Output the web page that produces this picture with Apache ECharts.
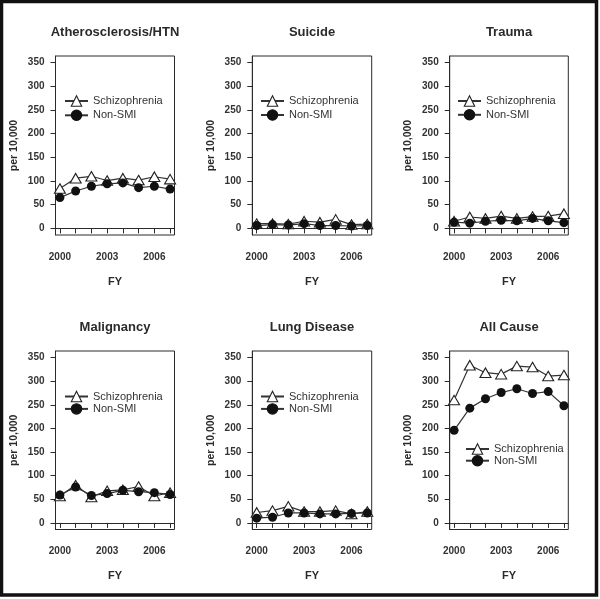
<!DOCTYPE html>
<html>
<head>
<meta charset="utf-8">
<script src="https://cdn.jsdelivr.net/npm/echarts@6/dist/echarts.min.js"></script>
<style>html,body{margin:0;padding:0;background:#fff}#c{width:600px;height:599px}</style>
</head>
<body>
<div id="c"></div>
<script>
const years = [2000, 2001, 2002, 2003, 2004, 2005, 2006, 2007];
const xTickLabels = [2000, 2003, 2006];
const yTicks = [0, 50, 100, 150, 200, 250, 300, 350];
const titles = ['Atherosclerosis/HTN', 'Suicide', 'Trauma', 'Malignancy', 'Lung Disease', 'All Cause'];
const seriesNames = ['Schizophrenia', 'Non-SMI'];

const schizoAthero = [84, 106, 110, 101, 106, 102, 109, 104];
const nonSmiAthero = [65, 79, 89, 94, 96, 86, 89, 83];
const schizoSuicide = [10, 10, 9, 15, 13, 19, 8, 9];
const nonSmiSuicide = [6, 8, 7, 10, 6, 6, 5, 6];
const schizoTrauma = [15, 24, 21, 26, 21, 25, 26, 31];
const nonSmiTrauma = [13, 11, 15, 17, 16, 21, 16, 12];
const schizoMalig = [57, 80, 55, 68, 70, 77, 57, 64];
const nonSmiMalig = [59, 76, 58, 62, 69, 66, 64, 60];
const schizoLung = [22, 26, 35, 24, 24, 26, 19, 24];
const nonSmiLung = [10, 12, 21, 21, 19, 19, 20, 21];
const schizoAll = [260, 334, 318, 315, 332, 330, 311, 313];
const nonSmiAll = [196, 243, 263, 276, 284, 274, 278, 248];

const schizoData = [schizoAthero, schizoSuicide, schizoTrauma, schizoMalig, schizoLung, schizoAll];
const nonSmiData = [nonSmiAthero, nonSmiSuicide, nonSmiTrauma, nonSmiMalig, nonSmiLung, nonSmiAll];

// layout (px)
const colLeft = [55.5, 252.3, 449.7];
const colWidth = [119, 119.4, 118.6];
const rowTop = [56, 351];
const rowHeight = [179, 178.5];
const legendPos = [
  {left: 64, top: 94.5, gap: 1.3},
  {left: 260, top: 94.5, gap: 1},
  {left: 457, top: 94.5, gap: 0.8},
  {left: 64, top: 390, gap: -0.6},
  {left: 260, top: 390, gap: -0.6},
  {left: 465, top: 442.5, gap: -1.3},
];

const FONT = '"Liberation Sans", Arial, sans-serif';
const INK = '#2a2a2a';

const grids = [], xAxes = [], yAxes = [], series = [], legends = [], graphics = [];
for (let i = 0; i < 6; i++) {
  const r = Math.floor(i / 3), c = i % 3;
  grids.push({left: colLeft[c], top: rowTop[r], width: colWidth[c], height: rowHeight[r],
    show: true, borderColor: INK, borderWidth: 1, backgroundColor: 'transparent', containLabel: false});
  xAxes.push({gridIndex: i, type: 'value', min: 1999.72, max: 2007.28,
    axisLine: {show: true, lineStyle: {color: INK, width: 1}},
    splitLine: {show: false},
    axisTick: {show: true, customValues: years, length: 5, lineStyle: {color: INK}},
    axisLabel: {customValues: xTickLabels, formatter: v => String(v), margin: 17,
      fontSize: 10, fontWeight: 'bold', color: '#333', fontFamily: FONT},
    name: 'FY', nameLocation: 'middle', nameGap: 41,
    nameTextStyle: {fontSize: 11, fontWeight: 'bold', color: INK, fontFamily: FONT}});
  yAxes.push({gridIndex: i, type: 'value', min: -14, max: 364,
    axisLine: {show: true, lineStyle: {color: INK, width: 1}},
    splitLine: {show: false},
    axisTick: {show: true, customValues: yTicks, length: 5, lineStyle: {color: INK}},
    axisLabel: {customValues: yTicks, margin: 11, fontSize: 10, fontWeight: 'bold', color: '#333', fontFamily: FONT},
    name: 'per 10,000', nameLocation: 'middle', nameGap: 36,
    nameTextStyle: {fontSize: 10.5, fontWeight: 'bold', color: INK, fontFamily: FONT}});
  series.push({name: seriesNames[0], type: 'line', xAxisIndex: i, yAxisIndex: i,
    data: years.map((y, k) => [y, schizoData[i][k]]),
    symbol: 'triangle', symbolSize: [11, 9.5],
    lineStyle: {color: '#333', width: 1.2},
    itemStyle: {color: '#fff', borderColor: '#222', borderWidth: 1.1},
    emphasis: {disabled: true}, animation: false, z: 2});
  series.push({name: seriesNames[1], type: 'line', xAxisIndex: i, yAxisIndex: i,
    data: years.map((y, k) => [y, nonSmiData[i][k]]),
    symbol: 'circle', symbolSize: 9,
    lineStyle: {color: '#333', width: 1.2},
    itemStyle: {color: '#111', borderColor: '#111', borderWidth: 0},
    emphasis: {disabled: true}, animation: false, z: 3});
  const lp = legendPos[i];
  legends.push({data: seriesNames, orient: 'vertical', left: lp.left, top: lp.top,
    padding: 0, itemGap: lp.gap, itemWidth: 23, itemHeight: 13, selectedMode: false,
    itemStyle: {borderWidth: 1.1},
    textStyle: {fontSize: 11, color: '#333', fontFamily: FONT, lineHeight: 13}});
  graphics.push({type: 'text', x: colLeft[c] + colWidth[c] / 2, y: rowTop[r] - (r === 0 ? 24 : 23.5),
    style: {text: titles[i], textAlign: 'center', textVerticalAlign: 'middle',
      font: 'bold 13px ' + FONT, fill: INK}});
}
graphics.push({type: 'rect', shape: {x: 1.5, y: 1.5, width: 595, height: 593.5},
  style: {fill: 'none', stroke: '#111', lineWidth: 3.5}, z: 100});

const chart = echarts.init(document.getElementById('c'), null, {renderer: 'canvas'});
chart.setOption({
  backgroundColor: '#fff',
  animation: false,
  grid: grids, xAxis: xAxes, yAxis: yAxes, series: series, legend: legends,
  graphic: graphics
});
</script>
</body>
</html>
